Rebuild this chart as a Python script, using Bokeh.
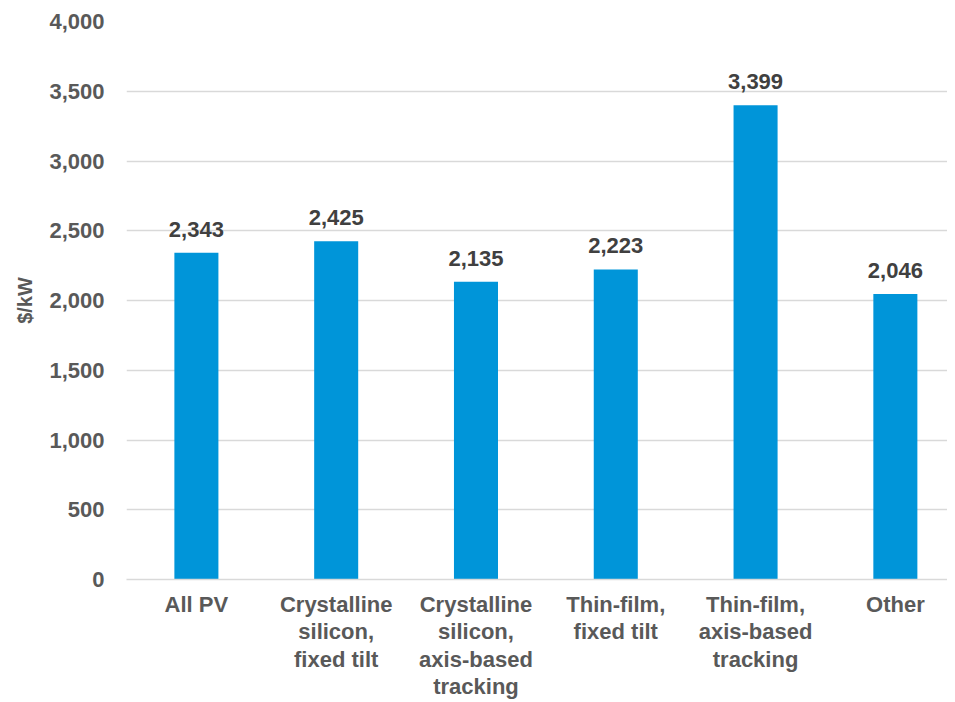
from bokeh.plotting import figure
from bokeh.models import Range1d, FixedTicker, NumeralTickFormatter, ColumnDataSource, LabelSet
from bokeh.core.properties import value
from bokeh.embed import file_html
from bokeh.resources import INLINE

categories = ["All PV", "Crystalline\nsilicon,\nfixed tilt", "Crystalline\nsilicon,\naxis-based\ntracking",
              "Thin-film,\nfixed tilt", "Thin-film,\naxis-based\ntracking", "Other"]
values = [2343, 2425, 2135, 2223, 3399, 2046]
y_ticks = [0, 500, 1000, 1500, 2000, 2500, 3000, 3500, 4000]

xs = list(range(len(categories)))
src = ColumnDataSource(dict(x=xs, top=values, label=[f"{v:,}" for v in values]))

p = figure(width=947, height=702, output_backend="svg", toolbar_location=None,
           x_range=Range1d(-0.5, 5.373), y_range=Range1d(0, 4000),
           min_border_left=126, min_border_right=0, min_border_top=21, min_border_bottom=123)
p.outline_line_color = None
p.background_fill_color = "white"

p.vbar(x="x", top="top", width=0.315, bottom=0, source=src, color="#0095D9", line_color=None)

labels = LabelSet(x="x", y="top", text="label", source=src, text_align="center", text_baseline="bottom",
                  y_offset=16, text_font=value("Liberation Sans"), text_font_style="bold",
                  text_font_size="22px", text_color="#404040")
p.add_layout(labels)

p.xgrid.grid_line_color = None
p.ygrid.grid_line_color = "#D9D9D9"
p.ygrid.grid_line_width = 1.5
p.ygrid.ticker = FixedTicker(ticks=y_ticks)

p.yaxis.ticker = FixedTicker(ticks=y_ticks)
p.yaxis.formatter = NumeralTickFormatter(format="0,0")
p.yaxis.axis_line_color = None
p.yaxis.major_tick_line_color = None
p.yaxis.minor_tick_line_color = None
p.yaxis.major_tick_out = 0
p.yaxis.major_label_standoff = 22
p.yaxis.major_label_text_font = "Liberation Sans"
p.yaxis.major_label_text_font_style = "bold"
p.yaxis.major_label_text_font_size = "22px"
p.yaxis.major_label_text_color = "#595959"
p.yaxis.axis_label = "$/kW"
p.yaxis.axis_label_text_font = "Liberation Sans"
p.yaxis.axis_label_text_font_style = "bold"
p.yaxis.axis_label_text_font_size = "20px"
p.yaxis.axis_label_text_color = "#595959"
p.yaxis.axis_label_standoff = 10

p.xaxis.ticker = FixedTicker(ticks=xs)
p.xaxis.major_label_overrides = {i: c for i, c in zip(xs, categories)}
p.xaxis.axis_line_color = "#D9D9D9"
p.xaxis.axis_line_width = 1.5
p.xaxis.major_tick_line_color = None
p.xaxis.minor_tick_line_color = None
p.xaxis.major_tick_out = 0
p.xaxis.major_label_standoff = 12
p.xaxis.major_label_text_font = "Liberation Sans"
p.xaxis.major_label_text_font_style = "bold"
p.xaxis.major_label_text_font_size = "22px"
p.xaxis.major_label_text_color = "#595959"
p.xaxis.major_label_text_line_height = 1.1

open("out.html", "w").write(file_html(p, INLINE))
